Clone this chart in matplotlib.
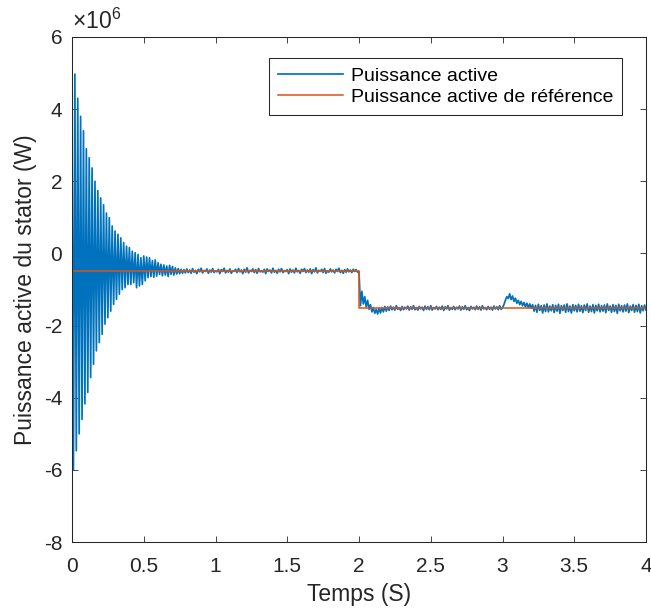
import numpy as np
import matplotlib
matplotlib.use('Agg')
import matplotlib.pyplot as plt
from matplotlib.ticker import FuncFormatter

plt.rcParams['font.family'] = ['Liberation Sans', 'DejaVu Sans']
plt.rcParams['mathtext.fontset'] = 'custom'
plt.rcParams['mathtext.rm'] = 'Liberation Sans'
plt.rcParams['axes.unicode_minus'] = False

# --- data (values in units of 1e6 W, sampled every 0.01 s) ---
dt = 0.01
scale = 1e6

# 0.00 - 0.68 s : decaying start-up oscillation (peaks)
p_osc = [3.5,
         -6.0, 4.97, -5.47, 4.3, -5.0, 3.8, -4.6, 3.4, -4.17, 2.9,
         -3.85, 2.65, -3.44, 2.37, -3.07, 2.0, -2.7, 1.74, -2.47, 1.54,
         -2.24, 1.35, -1.96, 1.12, -1.78, 0.99, -1.6, 0.76, -1.41, 0.62,
         -1.27, 0.53, -1.13, 0.43, -1.0, 0.3, -0.95, 0.2, -0.86, 0.16,
         -0.86, 0.06, -0.81, 0.02, -0.95, -0.03, -0.9, -0.12, -0.86, -0.07,
         -0.76, -0.1, -0.67, -0.12, -0.64, -0.2, -0.66, -0.18, -0.63, -0.26,
         -0.58, -0.3, -0.62, -0.32, -0.6, -0.35, -0.64, -0.33]

# 0.69 - 1.99 s : steady state around -0.5e6
p_pre = [-0.58, -0.36, -0.60, -0.40, -0.57, -0.42, -0.56, -0.44, -0.55, -0.45,
         -0.54, -0.43, -0.53, -0.46, -0.55, -0.42, -0.52, -0.47, -0.56, -0.44,
         -0.51, -0.41, -0.54, -0.47, -0.50, -0.43, -0.55, -0.46, -0.52, -0.42,
         -0.53, -0.48, -0.51, -0.44, -0.56, -0.45, -0.50, -0.41, -0.54, -0.47,
         -0.52, -0.43, -0.55, -0.48, -0.50, -0.44, -0.53, -0.42, -0.51, -0.46,
         -0.56, -0.44, -0.52, -0.40, -0.54, -0.47, -0.50, -0.43, -0.53, -0.45,
         -0.55, -0.42, -0.51, -0.48, -0.52, -0.44, -0.56, -0.43, -0.50, -0.46,
         -0.54, -0.41, -0.52, -0.47, -0.55, -0.44, -0.51, -0.42, -0.53, -0.48,
         -0.50, -0.45, -0.56, -0.43, -0.52, -0.46, -0.54, -0.41, -0.51, -0.47,
         -0.55, -0.44, -0.50, -0.42, -0.53, -0.46, -0.52, -0.43, -0.56, -0.45,
         -0.51, -0.40, -0.54, -0.47, -0.50, -0.44, -0.53, -0.42, -0.55, -0.48,
         -0.52, -0.43, -0.51, -0.46, -0.54, -0.44, -0.50, -0.41, -0.53, -0.47,
         -0.55, -0.45, -0.52, -0.43, -0.51, -0.46, -0.53, -0.44, -0.50, -0.45,
         -0.52]

# 2.00 - 4.00 s : step to -1.5e6, disturbance near 3 s
p_post = [-0.50, -1.45, -1.05, -1.40, -1.20, -1.48, -1.30, -1.55, -1.42, -1.62,
          -1.50, -1.66, -1.55, -1.68, -1.52, -1.65, -1.50, -1.62, -1.47, -1.60,
          -1.48, -1.58, -1.46, -1.56, -1.49, -1.57, -1.45, -1.55, -1.50, -1.58,
          -1.47, -1.56, -1.49, -1.54, -1.46, -1.57, -1.48, -1.55, -1.45, -1.56,
          -1.50, -1.57, -1.47, -1.54, -1.49, -1.58, -1.46, -1.55, -1.48, -1.56,
          -1.45, -1.57, -1.50, -1.54, -1.47, -1.56, -1.49, -1.55, -1.46, -1.58,
          -1.48, -1.54, -1.45, -1.57, -1.50, -1.55, -1.47, -1.56, -1.49, -1.54,
          -1.46, -1.57, -1.48, -1.55, -1.45, -1.56, -1.50, -1.58, -1.47, -1.54,
          -1.49, -1.56, -1.46, -1.55, -1.48, -1.57, -1.45, -1.54, -1.50, -1.56,
          -1.47, -1.55, -1.49, -1.57, -1.46, -1.54, -1.48, -1.56, -1.45, -1.55,
          -1.50, -1.42, -1.30, -1.20, -1.25, -1.12, -1.28, -1.18, -1.33, -1.24,
          -1.38, -1.30, -1.42, -1.33, -1.45, -1.36, -1.48, -1.38, -1.50, -1.40,
          -1.52,
          -1.42, -1.60, -1.44, -1.63, -1.41, -1.58, -1.45, -1.65, -1.43, -1.61,
          -1.40, -1.62, -1.46, -1.59, -1.42, -1.64, -1.44, -1.60, -1.41, -1.66,
          -1.45, -1.58, -1.43, -1.63, -1.40, -1.61, -1.46, -1.65, -1.42, -1.59,
          -1.44, -1.62, -1.41, -1.60, -1.45, -1.64, -1.43, -1.58, -1.40, -1.63,
          -1.46, -1.61, -1.42, -1.65, -1.44, -1.59, -1.41, -1.62, -1.45, -1.60,
          -1.43, -1.64, -1.40, -1.58, -1.46, -1.63, -1.42, -1.61, -1.44, -1.66,
          -1.41, -1.59, -1.45, -1.62, -1.43, -1.60, -1.40, -1.64, -1.46, -1.58,
          -1.42, -1.63, -1.44, -1.61, -1.41, -1.65, -1.45, -1.59, -1.43, -1.57]

# reference power
ref_t = [0, 2, 2, 4]
ref_p = [-0.5, -0.5, -1.5, -1.5]

p_active = np.array(p_osc + p_pre + p_post) * scale
t = np.arange(len(p_active)) * dt

# --- plot ---
fig = plt.figure(figsize=(6.51, 6.12), dpi=100)
ax = fig.add_axes([72 / 651, 1 - 542 / 612, 574 / 651, 505 / 612])

ax.plot(t, p_active, color='#0072BD', linewidth=1.25, label='Puissance active')
ax.plot(ref_t, np.array(ref_p) * scale, color='#D95319', linewidth=1.1,
        label='Puissance active de référence')

ax.set_xlim(0, 4)
ax.set_ylim(-8e6, 6e6)
ax.set_xticks(np.arange(0, 4.01, 0.5))
ax.set_yticks(np.arange(-8e6, 6.01e6, 2e6))
ax.xaxis.set_major_formatter(FuncFormatter(lambda v, pos: f'{v:g}'))
ax.yaxis.set_major_formatter(FuncFormatter(lambda v, pos: f'{v / scale:g}'))

ax.tick_params(direction='in', top=True, right=True, length=4, width=0.6,
               labelsize=15, colors='#262626')
ax.tick_params(axis='x', pad=11)
ax.tick_params(axis='y', pad=7)
for s in ax.spines.values():
    s.set_color('#262626')
    s.set_linewidth(0.75)

ax.text(0.0, 1.006, '×10$^{6}$', transform=ax.transAxes, ha='left', va='bottom',
        fontsize=16.5, color='#262626')

ax.set_xlabel('Temps (S)', fontsize=16.5, color='#262626', labelpad=5)
ax.set_ylabel('Puissance active du stator (W)', fontsize=16.5, color='#262626', labelpad=5)

leg = ax.legend(loc='upper right', bbox_to_anchor=(0.958, 0.958), borderaxespad=0,
                fontsize=14, handlelength=3.35, handletextpad=0.4, fancybox=False,
                framealpha=1, edgecolor='#262626', borderpad=0.45, labelspacing=0.2)
leg.get_frame().set_linewidth(0.75)

fig.savefig('out.png', dpi=100)
